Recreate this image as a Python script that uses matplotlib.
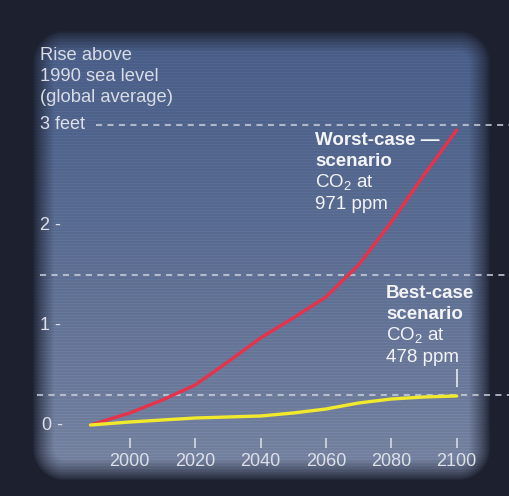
import numpy as np
import matplotlib
matplotlib.use('Agg')
import matplotlib.pyplot as plt

# data (feet above 1990 level)
years = [1988, 2000, 2010, 2020, 2030, 2040, 2050, 2060, 2070, 2080, 2090, 2100]
worst = [0.0, 0.12, 0.25, 0.40, 0.63, 0.87, 1.07, 1.28, 1.60, 2.03, 2.50, 2.95]
best = [0.0, 0.03, 0.05, 0.07, 0.08, 0.09, 0.12, 0.16, 0.22, 0.26, 0.28, 0.29]

xtick_years = [2000, 2020, 2040, 2060, 2080, 2100]
ytick_vals = [0, 1, 2, 3]
ytick_labels = ['0 -', '1 -', '2 -', '3 feet']
ref_levels = [3.0, 1.5, 0.3]
ref_start = [1989.6, 1972.6, 1971.5]

W, H = 509, 496
plt.rcParams['font.family'] = ['Liberation Sans', 'DejaVu Sans']
plt.rcParams['mathtext.fontset'] = 'custom'
plt.rcParams['mathtext.rm'] = 'Liberation Sans'

# background: dark bezel with a lit, rounded "screen"
yy, xx = np.mgrid[0:H, 0:W].astype(float)
cx, cy = (32 + 490) / 2, (30 + 480) / 2
hx, hy, r = (490 - 32) / 2, (480 - 30) / 2, 32
qx = np.abs(xx - cx) - (hx - r)
qy = np.abs(yy - cy) - (hy - r)
sd = np.hypot(np.maximum(qx, 0), np.maximum(qy, 0)) + np.minimum(np.maximum(qx, qy), 0) - r
t = np.clip(-sd / 22, 0, 1) ** 0.8

top = np.array([0x47, 0x5c, 0x86]) / 255
bot = np.array([0x78, 0x84, 0xa0]) / 255
v = (yy / H)[..., None]
screen = top + (bot - top) * v ** 1.3
screen = screen * (1 + 0.06 * ((yy % 3) == 0))[..., None]
frame = np.array([0x1c, 0x20, 0x2f]) / 255
img = frame + (screen - frame) * t[..., None]
img = np.clip(img, 0, 1)

fig = plt.figure(figsize=(W / 100, H / 100), dpi=100)
fig.patch.set_facecolor('#1c202f')
ax_bg = fig.add_axes([0, 0, 1, 1])
ax_bg.imshow(img, extent=[0, W, H, 0], aspect='auto', interpolation='nearest')
ax_bg.axis('off')

# data axes: bottom edge sits on the x tick marks (y px 443)
b = (H - 443) / H
ax = fig.add_axes([0, b, 1, 1 - b])
ax.set_facecolor('none')
px_per_year = 3.27
ax.set_xlim(1990 - 97 / px_per_year, 1990 + (W - 97) / px_per_year)
ax.set_ylim((425 - 443) / 100, 4.25)
for s in ax.spines.values():
    s.set_visible(False)
ax.set_yticks([])
ax.set_xticks(xtick_years)
ax.tick_params(axis='x', direction='inout', length=7, width=1.2, color='#d6dae3',
               labelcolor='#dde0e8', labelsize=13, pad=4)

for lvl, x0 in zip(ref_levels, ref_start):
    ax.plot([x0, ax.get_xlim()[1]], [lvl, lvl], color='#cfd3dc', lw=1.1,
            dashes=(4, 3.5), clip_on=False)

ax.plot(years, worst, color='#e6324a', lw=2.4, solid_capstyle='round', zorder=3)
ax.plot(years, best, color='#f1e92c', lw=2.4, solid_capstyle='round', zorder=4)

# y labels
for val, lab in zip(ytick_vals, ytick_labels):
    x0 = 1972.6 if val else 1973.2
    ax.text(x0, val, lab, ha='left', va='center', fontsize=13, color='#dde0e8')

# axis title
title_lines = ['Rise above', '1990 sea level', '(global average)']
for i, line in enumerate(title_lines):
    fig.text(40 / W, 1 - (60 + 21 * i) / H, line, ha='left', va='baseline',
             fontsize=13.2, color='#d9dce5')

# annotations
txt_c = '#f4f4f6'
worst_lines = [('Worst-case —', 'bold'), ('scenario', 'bold'), ('CO$_2$ at', 'normal'), ('971 ppm', 'normal')]
for i, (line, w) in enumerate(worst_lines):
    ax.text(2056.7, 2.80 - 0.212 * i, line, ha='left', va='baseline', fontsize=13.5,
            fontweight=w, color=txt_c)
best_lines = [('Best-case', 'bold'), ('scenario', 'bold'), ('CO$_2$ at', 'normal'), ('478 ppm', 'normal')]
for i, (line, w) in enumerate(best_lines):
    ax.text(2078.4, 1.27 - 0.213 * i, line, ha='left', va='baseline', fontsize=13.5,
            fontweight=w, color=txt_c)
ax.vlines(years[-1], 0.38, 0.56, color='#e6e8ee', lw=1.2)

fig.savefig('out.png', dpi=100, facecolor=fig.get_facecolor())
